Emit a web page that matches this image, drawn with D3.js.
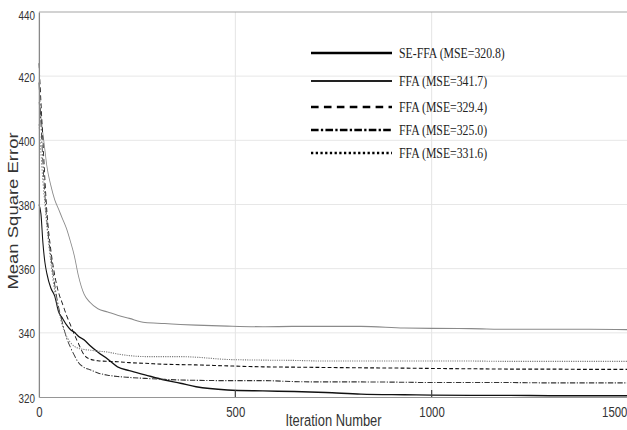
<!DOCTYPE html>
<html>
<head>
<meta charset="utf-8">
<script src="https://cdn.jsdelivr.net/npm/d3@7/dist/d3.min.js"></script>
<style>
  body { margin: 0; background: #fff; }
</style>
</head>
<body>
<div id="chart"></div>
<script>
// iteration grid shared by every curve
const iterations = [0, 5, 10, 15, 20, 30, 40, 50, 60, 70, 80, 90, 100, 115, 130, 150, 175, 200, 230, 270,
  320, 360, 400, 480, 570, 650, 730, 820, 930, 1000, 1100, 1200, 1300, 1400, 1500];

const seFfa = [380, 377, 368, 362, 358.5, 354, 351.5, 346.5, 344.5, 342.5, 341, 340.2, 339, 337.8, 336, 334, 331.8, 329.4, 328.2, 326.9,
  325.3, 324.3, 323.2, 322.2, 321.9, 321.7, 321.4, 320.9, 320.7, 320.6, 320.5, 320.5, 320.4, 320.4, 320.4];
const ffa1 = [412, 407, 402, 397, 392, 386, 381.5, 378.5, 375.5, 372.5, 368.5, 364, 358, 352, 349.5, 347.5, 346.5, 345.5, 344.5, 343.2,
  342.9, 342.6, 342.4, 342.1, 341.9, 342, 342, 342, 341.5, 341.4, 341.3, 341.1, 341.1, 341.1, 341];
const ffa2 = [424, 412, 400, 388, 378, 366, 358, 352.5, 349, 345.5, 342.5, 339.5, 336.8, 333.1, 331.8, 331.3, 331.1, 331, 330.7, 330.5,
  330.2, 330.1, 330, 329.7, 329.4, 329.3, 329.2, 329.1, 329, 328.9, 328.8, 328.7, 328.7, 328.6, 328.6];
const ffa3 = [418, 405, 393, 383, 375, 364, 355, 348, 343, 338.5, 335.5, 333, 330.8, 329.2, 328.5, 327.5, 326.8, 326.4, 326.1, 325.8,
  325.5, 325.3, 325.2, 325.1, 325.1, 324.8, 324.7, 324.7, 324.6, 324.5, 324.5, 324.5, 324.4, 324.4, 324.4];
const ffa4 = [405, 396, 387, 380, 373, 362, 353, 347, 342, 339, 337, 335.8, 335.2, 334.8, 334.6, 334.3, 334, 333.4, 332.9, 332.6,
  332.6, 332.6, 332.4, 331.7, 331.5, 331.4, 331.2, 331.2, 331.2, 331.2, 331.2, 331.1, 331.1, 331.1, 331.1];

const seriesNames = ['SE-FFA (MSE=320.8)', 'FFA (MSE=341.7)', 'FFA (MSE=329.4)', 'FFA (MSE=325.0)', 'FFA (MSE=331.6)'];
const seriesValues = [seFfa, ffa1, ffa2, ffa3, ffa4];

const xTicks = [0, 500, 1000, 1500];
const yTicks = [320, 340, 360, 380, 400, 420, 440];

// line looks: chart stroke, legend stroke
const styles = [
  { color: '#111', width: 1.4, dash: null, legColor: '#000', legWidth: 2.6, legDash: null },
  { color: '#8a8a8a', width: 1.1, dash: null, legColor: '#222', legWidth: 2.2, legDash: null },
  { color: '#111', width: 1.1, dash: '5,3', legColor: '#000', legWidth: 2.6, legDash: '10,7' },
  { color: '#333', width: 1.1, dash: '7,2,1.5,2', legColor: '#000', legWidth: 2.6, legDash: '10,3,3,3' },
  { color: '#777', width: 1.1, dash: '1.5,1.5', legColor: '#000', legWidth: 2.6, legDash: '3,3.2' }
];

// the original picture is squeezed horizontally, so everything is drawn wide then scaled
const sx = 0.76;
const W = 627, H = 430;

const svg = d3.select('#chart')
  .append('svg')
  .attr('width', W)
  .attr('height', H);

const g = svg.append('g').attr('transform', 'scale(' + sx + ',1)');

const x = d3.scaleLinear().domain([0, 1500]).range([39 / sx, 628 / sx]);
const y = d3.scaleLinear().domain([320, 440]).range([397, 12]);

const left = x(0), right = x(1500);

// grid
g.append('g')
  .selectAll('line.hgrid')
  .data(yTicks.filter(d => d > 320 && d < 440))
  .enter()
  .append('line')
  .attr('x1', left).attr('x2', right)
  .attr('y1', d => y(d)).attr('y2', d => y(d))
  .attr('stroke', '#e4e4e4').attr('stroke-width', 1);

g.append('g')
  .selectAll('line.vgrid')
  .data(xTicks.filter(d => d > 0 && d < 1500))
  .enter()
  .append('line')
  .attr('x1', d => x(d)).attr('x2', d => x(d))
  .attr('y1', y(440)).attr('y2', y(320))
  .attr('stroke', '#e4e4e4').attr('stroke-width', 1 / sx);

// frame
g.append('line').attr('x1', left).attr('x2', right).attr('y1', y(440)).attr('y2', y(440))
  .attr('stroke', '#999').attr('stroke-width', 1);

// curves
const line = d3.line()
  .curve(d3.curveMonotoneX)
  .x((d, i) => x(iterations[i]))
  .y(d => y(d));

seriesValues.forEach((vals, i) => {
  g.append('path')
    .datum(vals)
    .attr('fill', 'none')
    .attr('stroke', styles[i].color)
    .attr('stroke-width', styles[i].width)
    .attr('stroke-dasharray', styles[i].dash)
    .attr('d', line);
});

// axes
const xAxis = g.append('g')
  .attr('transform', 'translate(0,' + y(320) + ')')
  .call(d3.axisBottom(x).tickValues(xTicks).tickFormat(d3.format('d')).tickSize(0).tickPadding(9));
xAxis.select('.domain').attr('stroke', '#888');
xAxis.selectAll('text')
  .attr('font-family', '"Liberation Sans", Arial, sans-serif')
  .attr('font-size', 15)
  .attr('fill', '#333')
  .attr('text-anchor', d => d === 1500 ? 'end' : 'middle')
  .attr('dx', d => d === 1500 ? -1 / sx : 0);

// small inner ticks on the bottom axis
g.append('g')
  .selectAll('line.btick')
  .data(xTicks.filter(d => d > 0 && d < 1500))
  .enter()
  .append('line')
  .attr('x1', d => x(d)).attr('x2', d => x(d))
  .attr('y1', y(320)).attr('y2', y(320) - 7)
  .attr('stroke', '#444').attr('stroke-width', 1.2 / sx);

const yAxis = g.append('g')
  .attr('transform', 'translate(' + left + ',0)')
  .call(d3.axisLeft(y).tickValues(yTicks).tickSize(0).tickPadding(4 / sx));
yAxis.select('.domain').attr('stroke', '#888').attr('stroke-width', 1.3 / sx);
yAxis.selectAll('text')
  .attr('font-family', '"Liberation Sans", Arial, sans-serif')
  .attr('font-size', 13)
  .attr('fill', '#333')
  .attr('dy', d => d === 440 ? '0.6em' : (d === 320 ? '0.45em' : '0.38em'));

// axis titles
g.append('text')
  .attr('x', x(750))
  .attr('y', 426)
  .attr('text-anchor', 'middle')
  .attr('font-family', '"Liberation Sans", Arial, sans-serif')
  .attr('font-size', 17)
  .attr('fill', '#333')
  .text('Iteration Number');

g.append('text')
  .attr('transform', 'translate(' + (17.5 / sx) + ',' + 211 + ') rotate(-90)')
  .attr('text-anchor', 'middle')
  .attr('font-family', '"Liberation Sans", Arial, sans-serif')
  .attr('font-size', 18.5)
  .attr('fill', '#333')
  .text('Mean Square Error');

// legend
const legendRows = [53, 81, 107, 130, 153];
const legend = g.append('g');
seriesNames.forEach((name, i) => {
  legend.append('line')
    .attr('x1', 311 / sx).attr('x2', 392 / sx)
    .attr('y1', legendRows[i]).attr('y2', legendRows[i])
    .attr('stroke', styles[i].legColor)
    .attr('stroke-width', styles[i].legWidth)
    .attr('stroke-dasharray', styles[i].legDash);
  legend.append('text')
    .attr('x', 399 / sx)
    .attr('y', legendRows[i] + 5)
    .attr('font-family', '"Liberation Serif", "Times New Roman", serif')
    .attr('font-size', 15.5)
    .attr('fill', '#222')
    .text(name);
});
</script>
</body>
</html>
